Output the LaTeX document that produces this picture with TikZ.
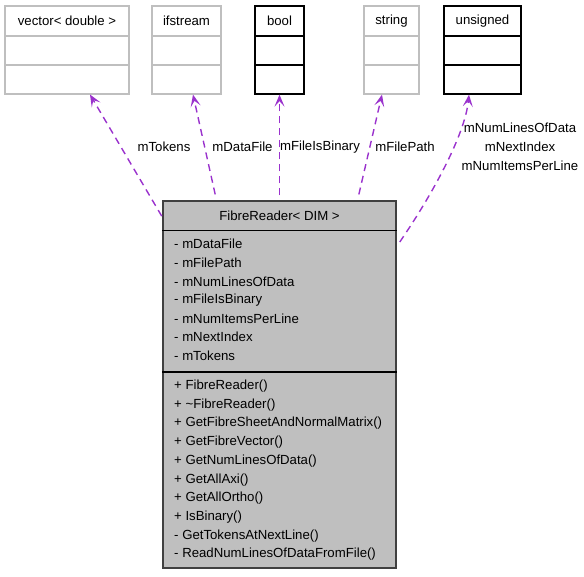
\documentclass[tikz,border=0pt]{standalone}
\usepackage{fontspec}
\setmainfont{Liberation Sans}
\usetikzlibrary{arrows.meta}
\definecolor{edgec}{HTML}{9A32CD}
\definecolor{boxgray}{HTML}{BFBFBF}
\definecolor{mainborder}{HTML}{404040}
\begin{document}
\begin{tikzpicture}[x=1pt,y=-1pt,
  font=\fontsize{13.2}{15}\selectfont,
  graybox/.style={draw=boxgray, line width=1.1pt, fill=white, rectangle, inner sep=0pt},
  blackbox/.style={draw=black, line width=1.3pt, fill=white, rectangle, inner sep=0pt},
  mainbox/.style={draw=mainborder, line width=1.5pt, fill=boxgray, rectangle, inner sep=0pt},
  txt/.style={inner sep=0pt, text=black},
  member/.style={inner sep=0pt, text=black, anchor=west},
  uses/.style={draw=edgec, line width=1.4pt, dash pattern=on 7pt off 5pt,
    -{Stealth[length=12pt,width=10pt,inset=5.5pt]}},
  lbl/.style={inner sep=0pt, text=black}]
\useasboundingbox (0,0) rectangle (584,576);

% top class boxes
\node[graybox, minimum width=124pt, minimum height=88pt] (vec) at (67,50) {};
\node[graybox, minimum width=69pt, minimum height=88pt] (ifs) at (186.5,50) {};
\node[blackbox, minimum width=49pt, minimum height=88pt] (bool) at (279.5,50) {};
\node[graybox, minimum width=55pt, minimum height=88pt] (str) at (391.5,50) {};
\node[blackbox, minimum width=77pt, minimum height=88pt] (uns) at (482.5,50) {};

\foreach \b/\c/\w in {vec/boxgray/1.1pt, ifs/boxgray/1.1pt, bool/black/1.3pt, str/boxgray/1.1pt, uns/black/1.3pt}{
  \draw[\c, line width=\w] (\b.west |- 0,36) -- (\b.east |- 0,36);
  \draw[\c, line width=\w] (\b.west |- 0,65) -- (\b.east |- 0,65);
}
\node[txt] (vect) at (67,21) {vector< double >};
\node[txt] (ifst) at (186.5,21) {ifstream};
\node[txt] (boolt) at (279.5,21) {bool};
\node[txt] (strt) at (391.5,21) {string};
\node[txt] (unst) at (482.5,21) {unsigned};

% main class box
\node[mainbox, minimum width=233pt, minimum height=367pt] (main) at (279.5,384.5) {};
\draw[black, line width=1.8pt] (main.west |- 0,230.5) -- (main.east |- 0,230.5);
\draw[black, line width=1.8pt] (main.west |- 0,372) -- (main.east |- 0,372);
\node[txt] (maint) at (279.5,216) {FibreReader< DIM >};

\node[member] (a1) at (174,244) {- mDataFile};
\node[member] (a2) at (174,262.7) {- mFilePath};
\node[member] (a3) at (174,281.3) {- mNumLinesOfData};
\node[member] (a4) at (174,300) {- mFileIsBinary};
\node[member] (a5) at (174,318.5) {- mNumItemsPerLine};
\node[member] (a6) at (174,337) {- mNextIndex};
\node[member] (a7) at (174,355.7) {- mTokens};

\node[member] (m1) at (174,386) {+ FibreReader()};
\node[member] (m2) at (174,404.8) {+ \textasciitilde FibreReader()};
\node[member] (m3) at (174,423.5) {+ GetFibreSheetAndNormalMatrix()};
\node[member] (m4) at (174,442.3) {+ GetFibreVector()};
\node[member] (m5) at (174,461) {+ GetNumLinesOfData()};
\node[member] (m6) at (174,479.7) {+ GetAllAxi()};
\node[member] (m7) at (174,498.4) {+ GetAllOrtho()};
\node[member] (m8) at (174,517.1) {+ IsBinary()};
\node[member] (m9) at (174,535.8) {- GetTokensAtNextLine()};
\node[member] (m10) at (174,554.5) {- ReadNumLinesOfDataFromFile()};

% usage edges
\draw[uses, shorten <=1pt] (main.west |- 0,217) -- (vec.south -| 90,0);
\draw[uses, shorten <=6pt] (main.north -| 216.5,0) -- (ifs.south -| 193,0);
\draw[uses, shorten <=5pt] (main.north) -- (bool.south);
\draw[uses, shorten <=6pt] (main.north -| 357.5,0) -- (str.south -| 382,0);
\draw[uses] (main.east |- 0,242) ++(3,0) .. controls (432,195) and (465,135) .. (uns.south -| 469,0);

% labels
\node[lbl] (l1) at (164,147) {mTokens};
\node[lbl] (l2) at (242.5,147) {mDataFile};
\node[lbl] (l3) at (320,147) {mFileIsBinary};
\node[lbl] (l4) at (405,147) {mFilePath};
\node[lbl] (l5) at (520,128) {mNumLinesOfData};
\node[lbl] (l6) at (520,147) {mNextIndex};
\node[lbl] (l7) at (520,166) {mNumItemsPerLine};
\end{tikzpicture}
\end{document}
